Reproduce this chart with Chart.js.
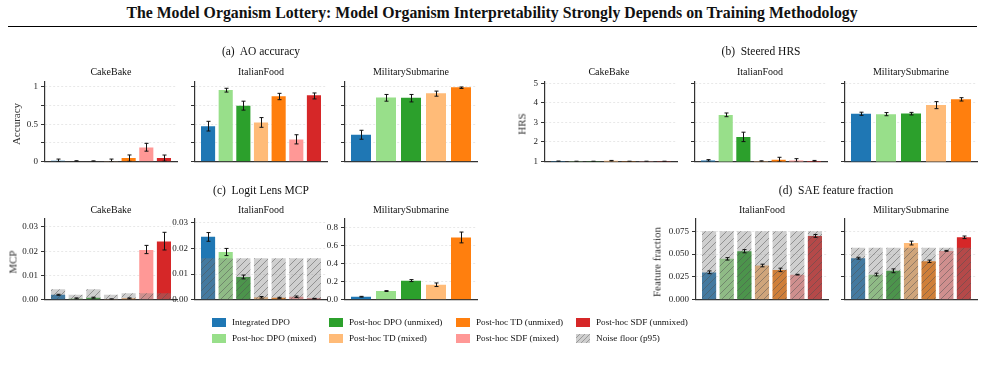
<!DOCTYPE html>
<html>
<head>
<meta charset="utf-8">
<script src="https://cdn.jsdelivr.net/npm/chart.js@4.4.0/dist/chart.umd.min.js"></script>
<style>
  body { margin: 0; width: 985px; height: 365px; position: relative; overflow: hidden; background: #fff;
         font-family: "Liberation Serif", "DejaVu Serif", serif; color: #111; }
  .t { position: absolute; white-space: pre; transform: translate(-50%, -50%); line-height: 1; }
  canvas { position: absolute; }
  .rule { position: absolute; left: 8px; top: 26px; width: 969px; height: 0; border-top: 1.5px solid #000; }
  .sw { position: absolute; width: 14px; height: 9px; }
  .lt { position: absolute; font-size: 9.2px; white-space: pre; transform: translateY(-50%); line-height: 1; }
</style>
</head>
<body>
<div class="rule"></div>
<script>
// methods, in bar order
const methods = ['Integrated DPO', 'Post-hoc DPO (mixed)', 'Post-hoc DPO (unmixed)', 'Post-hoc TD (mixed)',
                 'Post-hoc TD (unmixed)', 'Post-hoc SDF (mixed)', 'Post-hoc SDF (unmixed)'];
const methodColors = ['#1f77b4', '#98df8a', '#2ca02c', '#ffbb78', '#ff7f0e', '#ff9896', '#d62728'];
const militaryMethods = methods.slice(0, 5);

// (a) AO accuracy
const aoCake = [0.012, 0.006, 0.005, 0.008, 0.047, 0.19, 0.047];
const aoCakeLo = [0, 0, 0, 0, 0.004, 0.14, 0.006];
const aoCakeHi = [0.034, 0.012, 0.01, 0.034, 0.089, 0.245, 0.088];
const aoItal = [0.475, 0.96, 0.75, 0.525, 0.877, 0.297, 0.89];
const aoItalLo = [0.41, 0.932, 0.69, 0.46, 0.83, 0.237, 0.84];
const aoItalHi = [0.54, 0.983, 0.81, 0.59, 0.915, 0.36, 0.92];
const aoMil = [0.36, 0.86, 0.856, 0.915, 0.996];
const aoMilLo = [0.30, 0.81, 0.80, 0.877, 0.98];
const aoMilHi = [0.42, 0.90, 0.90, 0.945, 1.0];

// (b) Steered HRS
const hrsCake = [1.02, 1.01, 1.01, 1.04, 1.01, 1.01, 1.01];
const hrsCakeLo = [1.0, 1.0, 1.0, 1.02, 1.0, 1.0, 1.0];
const hrsCakeHi = [1.03, 1.02, 1.02, 1.06, 1.02, 1.02, 1.02];
const hrsItal = [1.06, 3.38, 2.26, 1.02, 1.1, 1.05, 1.03];
const hrsItalLo = [1.02, 3.29, 2.02, 1.0, 1.0, 1.0, 1.0];
const hrsItalHi = [1.1, 3.48, 2.5, 1.04, 1.22, 1.15, 1.06];
const hrsMil = [3.44, 3.42, 3.45, 3.89, 4.18];
const hrsMilLo = [3.36, 3.34, 3.38, 3.7, 4.09];
const hrsMilHi = [3.52, 3.5, 3.51, 4.06, 4.26];

// (c) Logit Lens MCP
const mcpCake = [0.002, 0.0005, 0.0008, 0.0002, 0.0005, 0.0205, 0.024];
const mcpCakeLo = [0.0018, 0.0003, 0.0006, 0.0001, 0.0003, 0.019, 0.0205];
const mcpCakeHi = [0.0022, 0.0007, 0.001, 0.0003, 0.0007, 0.0224, 0.0278];
const mcpCakeNoise = [0.0043, 0.002, 0.0043, 0.002, 0.0026, 0.0026, 0.0026];
const mcpItal = [0.0246, 0.0186, 0.0088, 0.0009, 0.0007, 0.0011, 0.0004];
const mcpItalLo = [0.0228, 0.0172, 0.0081, 0.0006, 0.0005, 0.0008, 0.0003];
const mcpItalHi = [0.0262, 0.02, 0.0096, 0.0012, 0.0009, 0.0014, 0.0005];
const mcpItalNoise = [0.0162, 0.0162, 0.0162, 0.0162, 0.0162, 0.0162, 0.0162];
const mcpMil = [0.032, 0.095, 0.21, 0.165, 0.69];
const mcpMilLo = [0.028, 0.09, 0.2, 0.145, 0.63];
const mcpMilHi = [0.036, 0.1, 0.222, 0.185, 0.75];

// (d) SAE feature fraction
const saeItal = [0.0298, 0.0448, 0.0531, 0.0375, 0.0326, 0.0274, 0.0698];
const saeItalLo = [0.0285, 0.0434, 0.0514, 0.036, 0.0307, 0.027, 0.0684];
const saeItalHi = [0.0315, 0.0461, 0.0549, 0.0389, 0.0345, 0.0278, 0.0715];
const saeItalNoise = [0.075, 0.075, 0.075, 0.075, 0.075, 0.075, 0.075];
const saeMil = [0.0455, 0.0274, 0.0316, 0.0622, 0.042, 0.0535, 0.0684];
const saeMilLo = [0.0445, 0.026, 0.0295, 0.06, 0.0407, 0.053, 0.067];
const saeMilHi = [0.0465, 0.029, 0.0337, 0.0642, 0.0434, 0.054, 0.0698];
const saeMilNoise = [0.057, 0.057, 0.057, 0.057, 0.057, 0.057, 0.057];

// tick values and labels
const aoTicks = [0, 0.25, 0.5, 0.75, 1];
const aoTickLabels = ['0', '', '0.5', '', '1'];
const hrsTicks = [1, 2, 3, 4, 5];
const hrsTickLabels = ['1', '2', '3', '4', '5'];
const mcpTicks = [0, 0.01, 0.02, 0.03];
const mcpTickLabels = ['0.00', '0.01', '0.02', '0.03'];
const mcpMilTicks = [0, 0.2, 0.4, 0.6, 0.8];
const mcpMilTickLabels = ['0.0', '0.2', '0.4', '0.6', '0.8'];
const saeTicks = [0, 0.025, 0.05, 0.075];
const saeTickLabels = ['0.000', '0.025', '0.050', '0.075'];
const noLabels = ['', '', '', '', '', ''];

const FONT = '"Liberation Serif", "DejaVu Serif", serif';

// grey hatch used for the noise floor
function makeHatch() {
  const c = document.createElement('canvas');
  c.width = c.height = 7;
  const g = c.getContext('2d');
  g.fillStyle = 'rgba(128,128,128,0.38)';
  g.fillRect(0, 0, 7, 7);
  g.strokeStyle = 'rgba(80,80,80,0.55)';
  g.lineWidth = 0.9;
  g.beginPath();
  g.moveTo(0, 7); g.lineTo(7, 0);
  g.moveTo(-1, 1); g.lineTo(1, -1);
  g.moveTo(6, 8); g.lineTo(8, 6);
  g.stroke();
  return g.createPattern(c, 'repeat');
}
const hatch = makeHatch();

const errorBars = {
  id: 'errorBars',
  afterDatasetsDraw(chart) {
    const ctx = chart.ctx, y = chart.scales.y, a = chart.chartArea;
    ctx.save();
    ctx.beginPath();
    ctx.rect(a.left, a.top - 2, a.right - a.left, a.bottom - a.top + 2);
    ctx.clip();
    ctx.strokeStyle = '#111';
    ctx.lineWidth = 1;
    chart.data.datasets.forEach((ds, di) => {
      if (!ds.errLo) return;
      chart.getDatasetMeta(di).data.forEach((bar, i) => {
        const x = Math.round(bar.x) + 0.5;
        const y1 = y.getPixelForValue(ds.errLo[i]);
        const y2 = y.getPixelForValue(ds.errHi[i]);
        ctx.beginPath();
        ctx.moveTo(x, y1); ctx.lineTo(x, y2);
        ctx.moveTo(x - 2, y1); ctx.lineTo(x + 2, y1);
        ctx.moveTo(x - 2, y2); ctx.lineTo(x + 2, y2);
        ctx.stroke();
      });
    });
    ctx.restore();
  }
};

function subplot(p) {
  const L = 45, T = 10, B = 4, R = 4;
  const cv = document.createElement('canvas');
  cv.width = L + p.w + R;
  cv.height = T + p.h + B;
  cv.style.left = (p.left - L) + 'px';
  cv.style.top = (p.top - T) + 'px';
  document.body.appendChild(cv);

  const n = p.labels.length;
  const pad = 0.4 + 0.05 * (n - 0.2);
  const datasets = [{
    data: p.values.map((v, i) => ({ x: i, y: v })),
    backgroundColor: methodColors.slice(0, n),
    errLo: p.lo, errHi: p.hi,
    grouped: false, order: 1,
    barPercentage: 0.8, categoryPercentage: 1
  }];
  if (p.noise) {
    datasets.push({
      data: p.noise.map((v, i) => ({ x: i, y: v })),
      backgroundColor: hatch,
      grouped: false, order: 0,
      barPercentage: 0.8, categoryPercentage: 1
    });
  }

  new Chart(cv, {
    type: 'bar',
    data: { datasets },
    options: {
      responsive: false,
      animation: false,
      events: [],
      layout: { padding: { top: T, right: R, bottom: 0, left: 0 } },
      plugins: { legend: { display: false }, tooltip: { enabled: false } },
      scales: {
        x: {
          type: 'linear', offset: false,
          min: -pad, max: n - 1 + pad,
          afterBuildTicks(s) { s.ticks = p.labels.map((_, i) => ({ value: i })); },
          ticks: { display: false },
          grid: { display: false },
          border: { color: '#333', width: 1.2 },
          afterFit(s) { s.height = B; }
        },
        y: {
          min: p.yMin, max: p.yMax,
          afterBuildTicks(s) { s.ticks = p.ticks.map(v => ({ value: v })); },
          ticks: {
            callback: (v, i) => p.tickLabels[i],
            font: { family: FONT, size: 9 },
            color: '#222', padding: 3, autoSkip: false
          },
          grid: { color: '#e2e2e2', lineWidth: 0.8, tickLength: 4, tickColor: '#333', tickWidth: 1 },
          border: { color: '#333', width: 1.2, dash: [2, 2] },
          afterFit(s) { s.width = L; }
        }
      }
    },
    plugins: [errorBars]
  });
}

// row 1
subplot({ left: 45, top: 82, w: 132, h: 84, labels: methods, values: aoCake, lo: aoCakeLo, hi: aoCakeHi,
          yMin: 0, yMax: 1.067, ticks: aoTicks, tickLabels: aoTickLabels });
subplot({ left: 195, top: 82, w: 132, h: 84, labels: methods, values: aoItal, lo: aoItalLo, hi: aoItalHi,
          yMin: 0, yMax: 1.067, ticks: aoTicks, tickLabels: noLabels });
subplot({ left: 345, top: 82, w: 132, h: 84, labels: militaryMethods, values: aoMil, lo: aoMilLo, hi: aoMilHi,
          yMin: 0, yMax: 1.067, ticks: aoTicks, tickLabels: noLabels });
subplot({ left: 545, top: 82, w: 132, h: 84, labels: methods, values: hrsCake, lo: hrsCakeLo, hi: hrsCakeHi,
          yMin: 1, yMax: 5.06, ticks: hrsTicks, tickLabels: hrsTickLabels });
subplot({ left: 695, top: 82, w: 132, h: 84, labels: methods, values: hrsItal, lo: hrsItalLo, hi: hrsItalHi,
          yMin: 1, yMax: 5.06, ticks: hrsTicks, tickLabels: noLabels });
subplot({ left: 845, top: 82, w: 132, h: 84, labels: militaryMethods, values: hrsMil, lo: hrsMilLo, hi: hrsMilHi,
          yMin: 1, yMax: 5.06, ticks: hrsTicks, tickLabels: noLabels });

// row 2
subplot({ left: 45, top: 219, w: 132, h: 85, labels: methods, values: mcpCake, lo: mcpCakeLo, hi: mcpCakeHi,
          noise: mcpCakeNoise, yMin: 0, yMax: 0.0333, ticks: mcpTicks, tickLabels: mcpTickLabels });
subplot({ left: 195, top: 219, w: 132, h: 85, labels: methods, values: mcpItal, lo: mcpItalLo, hi: mcpItalHi,
          noise: mcpItalNoise, yMin: 0, yMax: 0.0315, ticks: mcpTicks, tickLabels: mcpTickLabels });
subplot({ left: 345, top: 219, w: 132, h: 85, labels: militaryMethods, values: mcpMil, lo: mcpMilLo, hi: mcpMilHi,
          yMin: 0, yMax: 0.895, ticks: mcpMilTicks, tickLabels: mcpMilTickLabels });
subplot({ left: 696, top: 219, w: 132, h: 85, labels: methods, values: saeItal, lo: saeItalLo, hi: saeItalHi,
          noise: saeItalNoise, yMin: 0, yMax: 0.0885, ticks: saeTicks, tickLabels: saeTickLabels });
subplot({ left: 845, top: 219, w: 132, h: 85, labels: methods, values: saeMil, lo: saeMilLo, hi: saeMilHi,
          noise: saeMilNoise, yMin: 0, yMax: 0.0885, ticks: saeTicks, tickLabels: noLabels });

// text
function text(s, x, y, size, extra) {
  const d = document.createElement('div');
  d.className = 't';
  d.textContent = s;
  d.style.left = x + 'px';
  d.style.top = y + 'px';
  d.style.fontSize = size + 'px';
  if (extra === 'bold') d.style.fontWeight = 'bold';
  if (extra === 'rot') {
    d.style.transform = 'translate(-50%,-50%) rotate(-90deg)';
    d.style.color = '#333';
  }
  document.body.appendChild(d);
}
text('The Model Organism Lottery: Model Organism Interpretability Strongly Depends on Training Methodology', 492, 13, 15.8, 'bold');
text('(a)  AO accuracy', 261, 52, 11.5);
text('(b)  Steered HRS', 761, 52, 11.5);
text('(c)  Logit Lens MCP', 261, 191, 11.5);
text('(d)  SAE feature fraction', 836, 191, 11.5);
['CakeBake', 'ItalianFood', 'MilitarySubmarine'].forEach((s, i) => {
  text(s, 111 + 150 * i, 72, 10);
  text(s, 609 + 151 * i, 72, 10);
  text(s, 111 + 150 * i, 210, 10);
});
text('ItalianFood', 762, 210, 10);
text('MilitarySubmarine', 911, 210, 10);
text('Accuracy', 16, 124, 11, 'rot');
text('HRS', 522, 124, 11, 'rot');
text('MCP', 13, 262, 11, 'rot');
text('Feature fraction', 657, 262, 11, 'rot');

// legend, column-major
const legendNames = methods.concat(['Noise floor (p95)']);
const legendColX = [212, 329, 456, 576];
const legendRowY = [322.5, 338.5];
legendNames.forEach((name, i) => {
  const col = Math.floor(i / 2), row = i % 2;
  const sw = document.createElement('div');
  sw.className = 'sw';
  sw.style.left = legendColX[col] + 'px';
  sw.style.top = (legendRowY[row] - 4.5) + 'px';
  sw.style.background = i < 7 ? methodColors[i]
    : 'repeating-linear-gradient(135deg, #cfcfcf 0 2.5px, #9a9a9a 2.5px 3.5px)';
  document.body.appendChild(sw);
  const lt = document.createElement('div');
  lt.className = 'lt';
  lt.textContent = name;
  lt.style.left = (legendColX[col] + 20) + 'px';
  lt.style.top = legendRowY[row] + 'px';
  document.body.appendChild(lt);
});
</script>
</body>
</html>
